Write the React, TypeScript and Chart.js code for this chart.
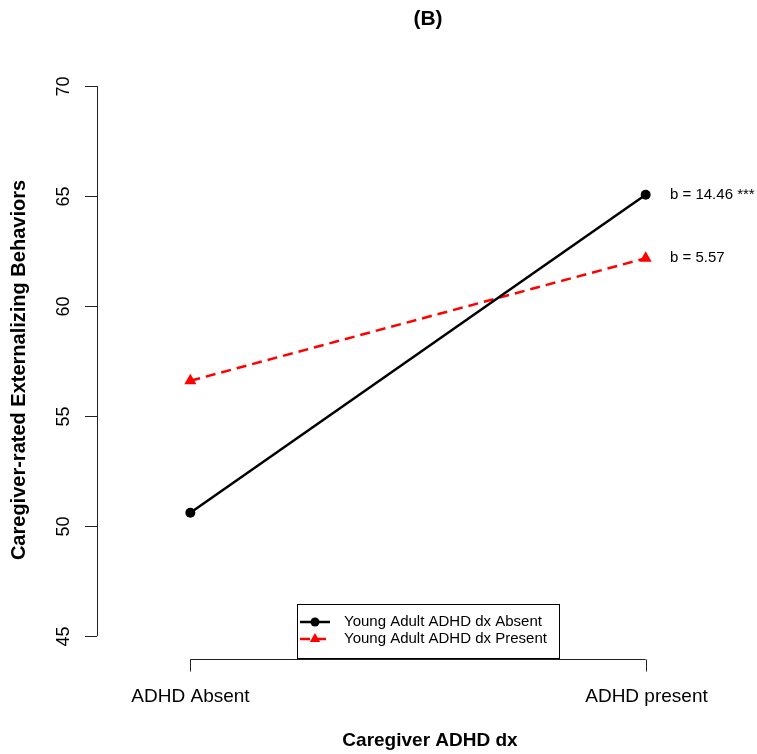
import React, { useEffect, useRef } from "react";
import { Chart, registerables } from "chart.js";

Chart.register(...registerables);

const categories = ["ADHD Absent", "ADHD present"];
const xPositions = [1, 2];
const seriesLabels = ["Young Adult ADHD dx Absent", "Young Adult ADHD dx Present"];
const absentValues = [50.6, 65.06];
const presentValues = [56.6, 62.17];
const slopeLabels = ["b = 14.46 ***", "b = 5.57"];
const yTicks = [45, 50, 55, 60, 65, 70];
const titleText = "(B)";
const xTitle = "Caregiver ADHD dx";
const yTitle = "Caregiver-rated Externalizing Behaviors";

const FONT = "'Liberation Sans', Arial, sans-serif";

const customPlugin = {
  id: "rStyle",
  afterDraw(chart: any) {
    const ctx = chart.ctx as CanvasRenderingContext2D;
    const xs = chart.scales.x;
    const ys = chart.scales.y;
    const area = chart.chartArea;
    ctx.save();
    ctx.strokeStyle = "#222";
    ctx.fillStyle = "#000";
    ctx.lineWidth = 1;

    // Y axis
    const yAxisX = area.left;
    ctx.beginPath();
    ctx.moveTo(yAxisX + 0.5, ys.getPixelForValue(yTicks[0]));
    ctx.lineTo(yAxisX + 0.5, ys.getPixelForValue(yTicks[yTicks.length - 1]));
    ctx.stroke();
    ctx.font = `18px ${FONT}`;
    ctx.textAlign = "center";
    ctx.textBaseline = "middle";
    yTicks.forEach((t) => {
      const py = Math.round(ys.getPixelForValue(t)) + 0.5;
      ctx.beginPath();
      ctx.moveTo(yAxisX, py);
      ctx.lineTo(yAxisX - 12, py);
      ctx.stroke();
      ctx.save();
      ctx.translate(64, py);
      ctx.rotate(-Math.PI / 2);
      ctx.fillText(String(t), 0, 0);
      ctx.restore();
    });

    // X axis
    const axisY = 659.5;
    ctx.beginPath();
    ctx.moveTo(xs.getPixelForValue(xPositions[0]), axisY);
    ctx.lineTo(xs.getPixelForValue(xPositions[xPositions.length - 1]), axisY);
    ctx.stroke();
    ctx.font = `19px ${FONT}`;
    ctx.textBaseline = "alphabetic";
    xPositions.forEach((v, i) => {
      const px = Math.round(xs.getPixelForValue(v)) + 0.5;
      ctx.beginPath();
      ctx.moveTo(px, axisY);
      ctx.lineTo(px, axisY + 12);
      ctx.stroke();
      ctx.fillText(categories[i], px, 702);
    });

    // Titles
    ctx.font = `bold 19px ${FONT}`;
    ctx.fillText(xTitle, 430, 746);
    ctx.font = `bold 21px ${FONT}`;
    ctx.fillText(titleText, 428, 25);
    ctx.save();
    ctx.font = `bold 20px ${FONT}`;
    ctx.translate(25, 370);
    ctx.rotate(-Math.PI / 2);
    ctx.fillText(yTitle, 0, 0);
    ctx.restore();

    // Slope annotations
    ctx.font = `15px ${FONT}`;
    ctx.textAlign = "left";
    ctx.textBaseline = "middle";
    chart.data.datasets.forEach((ds: any, i: number) => {
      const last = ds.data[ds.data.length - 1];
      ctx.fillText(slopeLabels[i], 670, ys.getPixelForValue(last.y));
    });

    // Legend
    ctx.strokeStyle = "#000";
    ctx.lineWidth = 1;
    ctx.fillStyle = "#fff";
    ctx.fillRect(297, 604, 262, 54);
    ctx.strokeRect(297.5, 604.5, 262, 54);
    const rows = [622, 639];
    chart.data.datasets.forEach((ds: any, i: number) => {
      const ry = rows[i];
      ctx.strokeStyle = ds.borderColor;
      ctx.fillStyle = ds.borderColor;
      ctx.lineWidth = 2.5;
      ctx.setLineDash(ds.borderDash || []);
      ctx.beginPath();
      ctx.moveTo(300, ry);
      ctx.lineTo(330, ry);
      ctx.stroke();
      ctx.setLineDash([]);
      ctx.beginPath();
      if (ds.pointStyle === "triangle") {
        const r = 6;
        ctx.moveTo(315, ry - r);
        ctx.lineTo(315 + r * 0.866, ry + r * 0.5);
        ctx.lineTo(315 - r * 0.866, ry + r * 0.5);
        ctx.closePath();
      } else {
        ctx.arc(315, ry, 4.5, 0, Math.PI * 2);
      }
      ctx.fill();
      ctx.fillStyle = "#000";
      ctx.font = `15px ${FONT}`;
      ctx.textAlign = "left";
      ctx.textBaseline = "middle";
      ctx.fillText(ds.label, 344, ry);
    });
    ctx.restore();
  },
};

export default function App() {
  const canvasRef = useRef<HTMLCanvasElement | null>(null);

  useEffect(() => {
    document.body.style.margin = "0";
    const canvas = canvasRef.current;
    if (!canvas) return;
    const chart = new Chart(canvas, {
      type: "line",
      data: {
        datasets: [
          {
            label: seriesLabels[0],
            data: xPositions.map((x, i) => ({ x, y: absentValues[i] })),
            borderColor: "#000000",
            backgroundColor: "#000000",
            borderWidth: 2.5,
            pointStyle: "circle",
            pointRadius: 5,
            pointBorderWidth: 0,
            fill: false,
          },
          {
            label: seriesLabels[1],
            data: xPositions.map((x, i) => ({ x, y: presentValues[i] })),
            borderColor: "#ff0000",
            backgroundColor: "#ff0000",
            borderWidth: 2.5,
            borderDash: [10, 6],
            pointStyle: "triangle",
            pointRadius: 7,
            pointBorderWidth: 0,
            fill: false,
          },
        ],
      },
      options: {
        animation: false,
        responsive: true,
        maintainAspectRatio: false,
        layout: { padding: { left: 97, right: 18, top: 86, bottom: 118 } },
        plugins: { legend: { display: false }, tooltip: { enabled: false }, title: { display: false } },
        scales: {
          x: { type: "linear", min: 0.795, max: 2.205, display: false },
          y: { type: "linear", min: 45, max: 70, display: false },
        },
        clip: false as any,
      },
      plugins: [customPlugin],
    });
    return () => chart.destroy();
  }, []);

  return (
    <div style={{ position: "absolute", left: 0, top: 0, width: 757, height: 754, background: "#fff" }}>
      <canvas ref={canvasRef} />
    </div>
  );
}
